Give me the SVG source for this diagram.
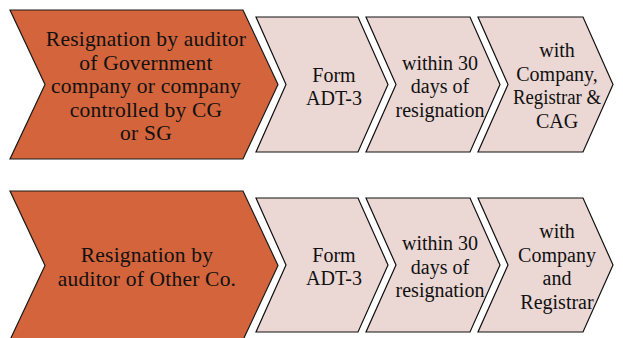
<svg xmlns="http://www.w3.org/2000/svg" width="623" height="338" viewBox="0 0 623 338">
  <style>
    .lead { fill: #D3643B; stroke: #1a1a1a; stroke-width: 1.2; }
    .step { fill: #EBD7D3; stroke: #111; stroke-width: 1.2; }
    text { font-family: "Liberation Serif", "DejaVu Serif", serif; font-size: 20px; fill: #111; text-anchor: middle; }
    .big { font-size: 21.5px; letter-spacing: 0.2px; }
  </style>
  <rect width="623" height="338" fill="#fff"/>

  <!-- Row 1: government company -->
  <g id="gov-auditor">
    <polygon class="lead" points="10,10 243,10 278,84.5 243,159 10,159 45,84.5"/>
    <text class="big" x="146" y="46">Resignation by auditor</text>
    <text class="big" x="146" y="69.5">of Government</text>
    <text class="big" x="146" y="93">company or company</text>
    <text class="big" x="146" y="116.5">controlled by CG</text>
    <text class="big" x="146" y="140">or SG</text>
  </g>
  <g id="gov-form">
    <polygon class="step" points="256,17 358,17 388,84.5 358,152 256,152 286,84.5"/>
    <text x="334" y="81.5">Form</text>
    <text x="334" y="104.5">ADT-3</text>
  </g>
  <g id="gov-time">
    <polygon class="step" points="366,17 470,17 500,84.5 470,152 366,152 396,84.5"/>
    <text x="440" y="69.5">within 30</text>
    <text x="440" y="93">days of</text>
    <text x="440" y="116.5">resignation</text>
  </g>
  <g id="gov-filing">
    <polygon class="step" points="478,17 583,17 613,84.5 583,152 478,152 508,84.5"/>
    <text x="557" y="57">with</text>
    <text x="557" y="80.5">Company,</text>
    <text x="557" y="104" textLength="88" lengthAdjust="spacingAndGlyphs">Registrar &amp;</text>
    <text x="557" y="127.5">CAG</text>
  </g>

  <!-- Row 2: other companies -->
  <g id="other-auditor">
    <polygon class="lead" points="10,191 243,191 278,265.5 243,340 10,340 45,265.5"/>
    <text class="big" x="147" y="262">Resignation by</text>
    <text class="big" x="147" y="286">auditor of Other Co.</text>
  </g>
  <g id="other-form">
    <polygon class="step" points="256,198 358,198 388,265 358,332 256,332 286,265"/>
    <text x="334" y="262">Form</text>
    <text x="334" y="285">ADT-3</text>
  </g>
  <g id="other-time">
    <polygon class="step" points="366,198 470,198 500,265 470,332 366,332 396,265"/>
    <text x="440" y="250">within 30</text>
    <text x="440" y="273.5">days of</text>
    <text x="440" y="297">resignation</text>
  </g>
  <g id="other-filing">
    <polygon class="step" points="478,198 583,198 613,265 583,332 478,332 508,265"/>
    <text x="557" y="238">with</text>
    <text x="557" y="261.5">Company</text>
    <text x="557" y="285">and</text>
    <text x="557" y="308.5">Registrar</text>
  </g>

  <g id="connectors"/>
</svg>
